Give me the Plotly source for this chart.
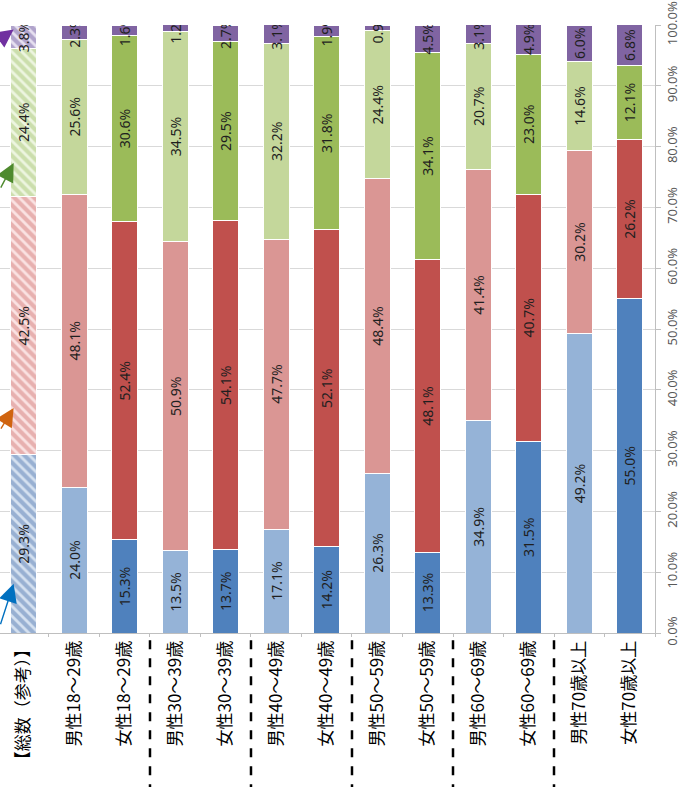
import plotly.graph_objects as go

categories = ['【総数（参考）】', '男性18～29歳', '女性18～29歳', '男性30～39歳', '女性30～39歳',
              '男性40～49歳', '女性40～49歳', '男性50～59歳', '女性50～59歳',
              '男性60～69歳', '女性60～69歳', '男性70歳以上', '女性70歳以上']
seg1 = [29.3, 24.0, 15.3, 13.5, 13.7, 17.1, 14.2, 26.3, 13.3, 34.9, 31.5, 49.2, 55.0]
seg2 = [42.5, 48.1, 52.4, 50.9, 54.1, 47.7, 52.1, 48.4, 48.1, 41.4, 40.7, 30.2, 26.2]
seg3 = [24.4, 25.6, 30.6, 34.5, 29.5, 32.2, 31.8, 24.4, 34.1, 20.7, 23.0, 14.6, 12.1]
seg4 = [3.8, 2.3, 1.6, 1.2, 2.7, 3.1, 1.9, 0.9, 4.5, 3.1, 4.9, 6.0, 6.8]
y_ticks = [0, 10, 20, 30, 40, 50, 60, 70, 80, 90, 100]
y_ticktext = [f'{v:.1f}%' for v in y_ticks]

# styles: (hatch stripe, hatch background, male colour, female colour)
seg_styles = [
    ('#5B80B3', '#D5E1F0', '#95B3D7', '#4F81BD'),
    ('#D47E7C', '#FAE2E2', '#DA9694', '#C0504D'),
    ('#A9C878', '#EDF5E0', '#C4D79B', '#9BBB59'),
    ('#7A65A6', '#E6E0F0', '#8064A2', '#8064A2'),
]

text_style = dict(texttemplate='%{y:.1f}%', textposition='inside', insidetextanchor='middle',
                  textangle=-90, textfont=dict(size=14, color='#1F1F1F', family='Noto Sans'),
                  showlegend=False, hoverinfo='skip')

fig = go.Figure()
for vals, (hfg, hbg, mcol, fcol) in zip([seg1, seg2, seg3, seg4], seg_styles):
    # reference (total) bar, hatched
    fig.add_trace(go.Bar(
        x=categories[:1], y=vals[:1],
        marker=dict(color=hbg, line=dict(color='white', width=1),
                    pattern=dict(shape='\\', fgcolor=hfg, fillmode='overlay',
                                 size=7, solidity=0.6)),
        **text_style))
    # male / female bars
    cols = [mcol if i % 2 == 1 else fcol for i in range(1, len(categories))]
    fig.add_trace(go.Bar(
        x=categories[1:], y=vals[1:],
        marker=dict(color=cols, line=dict(color='white', width=1)),
        **text_style))

# dashed group separators below the plot
for xs in [2.5, 4.5, 6.5, 8.5, 10.5]:
    fig.add_shape(type='line', xref='x', yref='paper', x0=xs, x1=xs, y0=-0.012, y1=-0.26,
                  line=dict(color='black', width=2.5, dash='dash'))

# coloured arrows pointing at the reference bar
arrows = [(99.3, '#7030A0', -24, 10), (77.3, '#4E8A2E', -28, 26),
          (37.0, '#D0640F', -30, 22), (8.1, '#0070C0', -22, 42)]
for yv, col, ax, ay in arrows:
    fig.add_annotation(x=-0.2, y=yv, xref='x', yref='y', text='', showarrow=True,
                       arrowhead=2, arrowsize=2.6, arrowwidth=1.4, arrowcolor=col,
                       ax=ax, ay=ay)

fig.update_layout(
    width=691, height=787, barmode='stack', bargap=0.48,
    margin=dict(l=0, r=36, t=25, b=154),
    plot_bgcolor='white', paper_bgcolor='white',
    uniformtext=dict(minsize=14, mode='show'),
    font=dict(family='Noto Sans CJK JP'),
    xaxis=dict(type='category', range=[-0.47, 12.5], tickangle=-90, automargin=False,
               tickfont=dict(size=17, color='black', family='Noto Sans CJK JP'),
               showline=True, linecolor='#BFBFBF', ticks='outside', tickson='boundaries',
               ticklen=3, tickcolor='#BFBFBF', showgrid=False),
    yaxis=dict(side='right', range=[0, 100.02], tickvals=y_ticks, ticktext=y_ticktext,
               tickangle=-90, automargin=False,
               tickfont=dict(size=13, color='#595959', family='Noto Sans'),
               showgrid=True, gridcolor='#D9D9D9', gridwidth=1,
               showline=True, linecolor='#BFBFBF', ticks='outside', ticklen=5,
               tickcolor='#BFBFBF', zeroline=False),
)

fig.write_html('out.html', config={'displayModeBar': False},
               post_script="document.body.style.margin='0';")
